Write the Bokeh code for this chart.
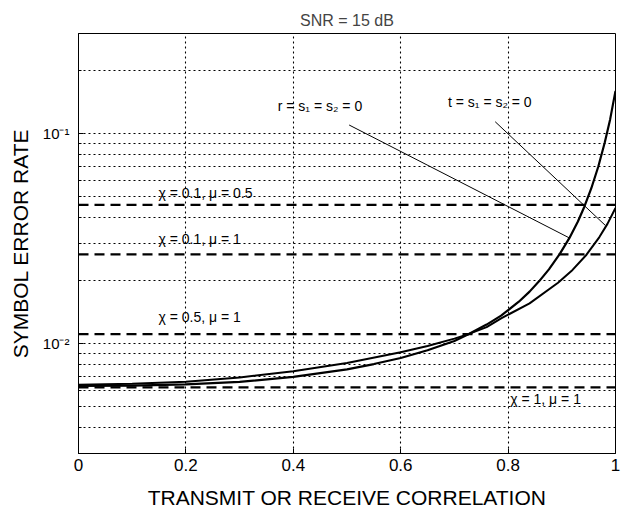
from bokeh.plotting import figure
from bokeh.models import Range1d, FixedTicker, Label, ColumnDataSource
from bokeh.embed import file_html
from bokeh.resources import INLINE

# ---------------- data ----------------
corr_A = [0, 0.1, 0.2, 0.3, 0.4, 0.5, 0.55, 0.6, 0.65, 0.7, 0.726, 0.76, 0.787,
          0.82, 0.84, 0.858, 0.876, 0.896, 0.914, 0.93, 0.942, 0.955, 0.968,
          0.98, 0.99, 1.0]
ser_A = [0.0063, 0.00632, 0.0064, 0.00658, 0.00695, 0.00755, 0.0080, 0.00855,
         0.0093, 0.0103, 0.0111, 0.01233, 0.0136, 0.01585, 0.0177, 0.01986,
         0.0226, 0.0267, 0.0318, 0.0382, 0.0449, 0.0550, 0.0698, 0.0908,
         0.117, 0.160]

corr_B = [0, 0.1, 0.2, 0.3, 0.4, 0.5, 0.6, 0.65, 0.7, 0.726, 0.76, 0.787,
          0.84, 0.893, 0.92, 0.946, 0.97, 0.985, 1.0]
ser_B = [0.00638, 0.00644, 0.00659, 0.0069, 0.0074, 0.0081, 0.0091, 0.00975,
         0.01057, 0.0111, 0.0120, 0.0132, 0.01556, 0.0195, 0.02245, 0.02653,
         0.0322, 0.0372, 0.0443]

dashed_ser = [0.0458, 0.0266, 0.0111, 0.0062]
dashed_labels = ["χ = 0.1, μ = 0.5", "χ = 0.1, μ = 1", "χ = 0.5, μ = 1", "χ = 1, μ = 1"]

x_ticks = [0, 0.2, 0.4, 0.6, 0.8, 1]
x_tick_labels = ["0", "0.2", "0.4", "0.6", "0.8", "1"]
y_ticks = [0.01, 0.1]
y_tick_labels = ["10⁻²", "10⁻¹"]
y_minor = [0.003, 0.004, 0.005, 0.006, 0.007, 0.008, 0.009,
           0.02, 0.03, 0.04, 0.05, 0.06, 0.07, 0.08, 0.09, 0.2, 0.3]

curve_labels = ["r = s₁ = s₂ = 0", "t = s₁ = s₂ = 0"]

# ---------------- layout / style ----------------
FONT = "Liberation Sans"

p = figure(width=621, height=518, x_range=Range1d(0, 1), y_range=Range1d(0.003, 0.3),
           y_axis_type="log", output_backend="svg", toolbar_location=None,
           min_border_left=78, min_border_right=6, min_border_top=33,
           min_border_bottom=65)

p.title.text = "SNR = 15 dB"
p.title.align = "center"
p.title.text_font = FONT
p.title.text_font_size = "16px"
p.title.text_font_style = "normal"

p.outline_line_color = "black"
p.outline_line_width = 1
p.background_fill_color = "white"
p.border_fill_color = "white"

p.xaxis.ticker = FixedTicker(ticks=x_ticks)
p.xaxis.major_label_overrides = dict(zip(x_ticks, x_tick_labels))
p.yaxis.ticker = FixedTicker(ticks=y_ticks, minor_ticks=y_minor)
p.yaxis.major_label_overrides = dict(zip(y_ticks, y_tick_labels))

for ax in (p.xaxis, p.yaxis):
    ax.axis_line_color = "black"
    ax.major_tick_line_color = "black"
    ax.major_tick_in = 5
    ax.major_tick_out = 0
    ax.minor_tick_in = 3
    ax.minor_tick_out = 0
    ax.major_label_text_font = FONT
    ax.major_label_text_color = "black"
    ax.axis_label_text_font = FONT
    ax.axis_label_text_font_style = "normal"
    ax.axis_label_text_color = "black"
    ax.axis_label_text_font_size = "21px"

p.xaxis.minor_tick_line_color = None
p.xaxis.major_label_text_font_size = "17px"
p.xaxis.major_label_standoff = 5
p.xaxis.axis_label = "TRANSMIT OR RECEIVE CORRELATION"
p.xaxis.axis_label_standoff = 12

p.yaxis.major_label_text_font_size = "15px"
p.yaxis.major_label_standoff = 9
p.yaxis.minor_tick_line_color = "black"
p.yaxis.axis_label = "SYMBOL ERROR RATE"
p.yaxis.axis_label_standoff = 8

GRID_DASH = "2 3"
p.xgrid.grid_line_color = "black"
p.xgrid.grid_line_dash = GRID_DASH
p.xgrid.grid_line_width = 1.1
p.ygrid.grid_line_color = "black"
p.ygrid.grid_line_dash = GRID_DASH
p.ygrid.grid_line_width = 1.1
p.ygrid.minor_grid_line_color = "black"
p.ygrid.minor_grid_line_dash = GRID_DASH
p.ygrid.minor_grid_line_width = 1.1

# dashed reference levels
dsrc = ColumnDataSource(dict(x0=[0] * len(dashed_ser), x1=[1] * len(dashed_ser),
                             y=dashed_ser))
p.segment(x0="x0", y0="y", x1="x1", y1="y", source=dsrc, line_color="black",
          line_width=2.3, line_dash="10 6")

# curves
p.line(corr_A, ser_A, line_color="black", line_width=2.2, line_join="round")
p.line(corr_B, ser_B, line_color="black", line_width=2.0, line_join="round")

# labels for dashed lines
dl_pos = [(0.149, 0.0524), (0.149, 0.0315), (0.149, 0.01336), (0.804, 0.00546)]
for txt, (lx, ly) in zip(dashed_labels, dl_pos):
    p.add_layout(Label(x=lx, y=ly, text=txt, text_font=FONT, text_font_size="14px",
                       text_baseline="middle", text_align="left", text_color="black"))

# curve labels with leader lines
cl_pos = [(0.371, 0.136), (0.688, 0.141)]
for txt, (lx, ly) in zip(curve_labels, cl_pos):
    p.add_layout(Label(x=lx, y=ly, text=txt, text_font=FONT, text_font_size="14px",
                       text_baseline="middle", text_align="left", text_color="black"))

lsrc = ColumnDataSource(dict(x0=[0.504, 0.776], y0=[0.110, 0.1140],
                             x1=[0.914, 0.981], y1=[0.0319, 0.0366]))
p.segment(x0="x0", y0="y0", x1="x1", y1="y1", source=lsrc, line_color="black",
          line_width=1)

open("out.html", "w").write(file_html(p, INLINE))
